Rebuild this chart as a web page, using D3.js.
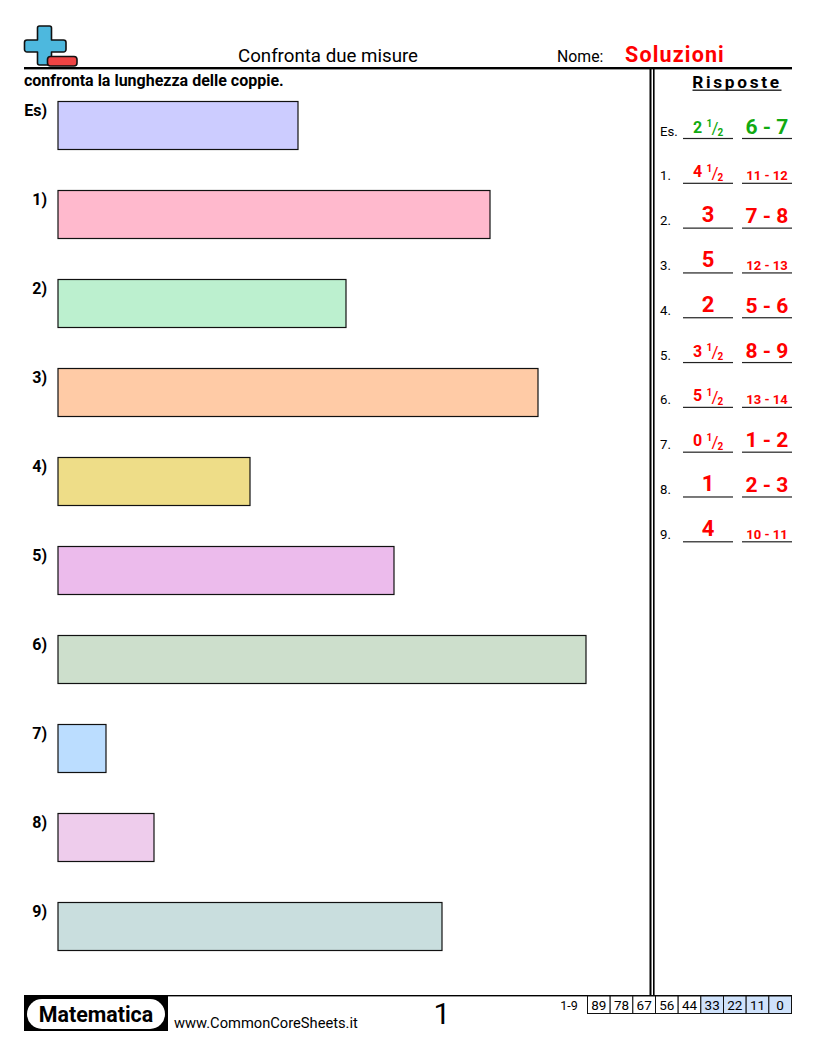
<!DOCTYPE html>
<html>

<head>
    <title>Confronta due misure</title>
    <script src="https://d3js.org/d3.v7.min.js"></script>
    <style>
        html, body { margin: 0; padding: 0; background: #fff; }
        svg { display: block; }
        text { font-family: Roboto, sans-serif; fill: #000; }
    </style>
</head>

<body>
    <div id="sheet"></div>

    <script>
        // Values read from the worksheet
        const rowLabels = ["Es)", "1)", "2)", "3)", "4)", "5)", "6)", "7)", "8)", "9)"];
        const barLengths = [5, 9, 6, 10, 4, 7, 11, 1, 2, 8];
        const barColors = ["#ccccff", "#ffb9cd", "#bcf0cf", "#ffcba6", "#eedd88", "#ecbbec", "#cddfcc", "#bbddff", "#eeccec", "#c9dede"];
        const answerLabels = ["Es.", "1.", "2.", "3.", "4.", "5.", "6.", "7.", "8.", "9."];
        const answerWhole = ["2", "4", "3", "5", "2", "3", "5", "0", "1", "4"];
        const answerHalf = [true, true, false, false, false, true, true, true, false, false];
        const answerRange = ["6 - 7", "11 - 12", "7 - 8", "12 - 13", "5 - 6", "8 - 9", "13 - 14", "1 - 2", "2 - 3", "10 - 11"];
        const scoreLabels = ["89", "78", "67", "56", "44", "33", "22", "11", "0"];

        const width = 816, height = 1056;
        const svg = d3.select("#sheet").append("svg")
            .attr("width", width)
            .attr("height", height);

        const x = d3.scaleLinear().domain([0, 11]).range([58, 586]);
        const y = d3.scaleBand().domain(rowLabels).range([101, 991]).paddingInner(0).align(0);
        const barHeight = 48;
        const answerY = d3.scalePoint().domain(answerLabels).range([138.5, 541.8]);
        const scoreX = d3.scaleBand().domain(scoreLabels).range([587.5, 791.5]);

        // Header
        const icon = svg.append("g").attr("stroke", "#111").attr("stroke-width", 1.6).attr("stroke-linejoin", "round");
        icon.append("path")
            .attr("d", "M39.5,26 h10 a2,2 0 0 1 2,2 v12 h12 a2.5,2.5 0 0 1 2.5,2.5 v7 a2.5,2.5 0 0 1 -2.5,2.5 h-12 v11 a2,2 0 0 1 -2,2 h-10 a2,2 0 0 1 -2,-2 v-11 h-10.5 a2.5,2.5 0 0 1 -2.5,-2.5 v-7 a2.5,2.5 0 0 1 2.5,-2.5 h10.5 v-12 a2,2 0 0 1 2,-2 z")
            .attr("fill", "#4db8de");
        icon.append("rect")
            .attr("x", 47.5).attr("y", 56.5).attr("width", 29.5).attr("height", 9.5).attr("rx", 3)
            .attr("fill", "#ef4444");

        svg.append("text").attr("x", 328).attr("y", 61.5).attr("text-anchor", "middle")
            .attr("font-size", 18.7).attr("fill", "#222").text("Confronta due misure");
        svg.append("text").attr("x", 557).attr("y", 62)
            .attr("font-size", 15.8).text("Nome:");
        svg.append("text").attr("x", 625).attr("y", 61.5)
            .attr("font-size", 21.5).attr("font-weight", 700).attr("letter-spacing", 1.15)
            .style("fill", "#ff0000").text("Soluzioni");

        svg.append("rect").attr("x", 24).attr("y", 67).attr("width", 768).attr("height", 2.4).attr("fill", "#000");
        svg.append("text").attr("x", 24).attr("y", 85.5)
            .attr("font-size", 16).attr("font-weight", 700).text("confronta la lunghezza delle coppie.");

        // Divider
        svg.append("rect").attr("x", 649.5).attr("y", 68).attr("width", 2).attr("height", 927).attr("fill", "#000");
        svg.append("rect").attr("x", 653).attr("y", 68).attr("width", 1.6).attr("height", 927).attr("fill", "#000");

        // Bars
        svg.selectAll("rect.bar")
            .data(barLengths)
            .enter()
            .append("rect")
            .attr("class", "bar")
            .attr("x", x(0))
            .attr("y", (d, i) => y(rowLabels[i]) + 0.5)
            .attr("width", d => x(d) - x(0))
            .attr("height", barHeight)
            .attr("fill", (d, i) => barColors[i])
            .attr("stroke", "#111")
            .attr("stroke-width", 1.2);

        svg.selectAll("text.rowlabel")
            .data(rowLabels)
            .enter()
            .append("text")
            .attr("class", "rowlabel")
            .attr("x", 47)
            .attr("y", d => y(d) + 14.5)
            .attr("text-anchor", "end")
            .attr("font-size", 16)
            .attr("font-weight", 700)
            .text(d => d);

        // Answer column
        svg.append("text").attr("x", 737).attr("y", 87.5)
            .attr("text-anchor", "middle").attr("font-size", 17.3).attr("font-weight", 700)
            .attr("letter-spacing", 2.7).attr("fill", "#222").text("Risposte");
        svg.append("rect").attr("x", 692.5).attr("y", 89.5).attr("width", 89).attr("height", 1.4).attr("fill", "#222");

        const rows = svg.selectAll("g.answer")
            .data(answerLabels)
            .enter()
            .append("g")
            .attr("class", "answer")
            .attr("transform", d => "translate(0," + answerY(d) + ")");

        rows.append("text").attr("x", 660).attr("y", -3)
            .attr("font-size", 13.2).attr("fill", "#222").text(d => d);
        rows.append("rect").attr("x", 683).attr("y", -0.6).attr("width", 50).attr("height", 1.2).attr("fill", "#222");
        rows.append("rect").attr("x", 742).attr("y", -0.6).attr("width", 50).attr("height", 1.2).attr("fill", "#222");

        const answerColor = (i) => i === 0 ? "#11aa11" : "#ff0000";

        rows.each(function (d, i) {
            const row = d3.select(this);
            if (answerHalf[i]) {
                row.append("text").attr("x", 693).attr("y", -6).attr("font-size", 16).attr("font-weight", 700)
                    .style("fill", answerColor(i)).text(answerWhole[i]);
                row.append("text").attr("x", 706.5).attr("y", -11.5).attr("font-size", 10).attr("font-weight", 700)
                    .style("fill", answerColor(i)).text("1");
                row.append("text").attr("x", 711.5).attr("y", -4.5).attr("font-size", 17)
                    .style("fill", answerColor(i)).text("/");
                row.append("text").attr("x", 717.5).attr("y", -2.5).attr("font-size", 10).attr("font-weight", 700)
                    .style("fill", answerColor(i)).text("2");
            } else {
                row.append("text").attr("x", 708).attr("y", -6).attr("text-anchor", "middle")
                    .attr("font-size", 22).attr("font-weight", 700)
                    .style("fill", answerColor(i)).text(answerWhole[i]);
            }
            const small = answerRange[i].length > 5;
            row.append("text").attr("x", 767).attr("y", small ? -3 : -5).attr("text-anchor", "middle")
                .attr("font-size", small ? 13 : 21).attr("font-weight", 700)
                .style("fill", answerColor(i)).text(answerRange[i]);
        });

        // Footer
        svg.append("rect").attr("x", 24).attr("y", 995).attr("width", 768).attr("height", 1.4).attr("fill", "#000");
        svg.append("rect").attr("x", 24).attr("y", 995).attr("width", 144).attr("height", 36).attr("fill", "#000");
        svg.append("rect").attr("x", 27).attr("y", 999).attr("width", 138).attr("height", 30).attr("rx", 15).attr("fill", "#fff");
        svg.append("text").attr("x", 96).attr("y", 1021.5).attr("text-anchor", "middle")
            .attr("font-size", 21.4).attr("font-weight", 700).text("Matematica");
        svg.append("text").attr("x", 174).attr("y", 1028)
            .attr("font-size", 14.7).attr("fill", "#222").text("www.CommonCoreSheets.it");
        svg.append("text").attr("x", 442).attr("y", 1023.5).attr("text-anchor", "middle")
            .attr("font-size", 30).attr("fill", "#222").text("1");
        svg.append("text").attr("x", 569).attr("y", 1010).attr("text-anchor", "middle")
            .attr("font-size", 12.5).attr("fill", "#222").text("1-9");

        svg.selectAll("rect.score")
            .data(scoreLabels)
            .enter()
            .append("rect")
            .attr("class", "score")
            .attr("x", d => scoreX(d))
            .attr("y", 996)
            .attr("width", scoreX.bandwidth())
            .attr("height", 17.5)
            .attr("fill", (d, i) => i >= 5 ? "#cfe2fb" : "#fff")
            .attr("stroke", "#111")
            .attr("stroke-width", 1);

        svg.selectAll("text.score")
            .data(scoreLabels)
            .enter()
            .append("text")
            .attr("class", "score")
            .attr("x", d => scoreX(d) + scoreX.bandwidth() / 2)
            .attr("y", 1010)
            .attr("text-anchor", "middle")
            .attr("font-size", 13.5)
            .attr("fill", "#222")
            .text(d => d);
    </script>
</body>

</html>
